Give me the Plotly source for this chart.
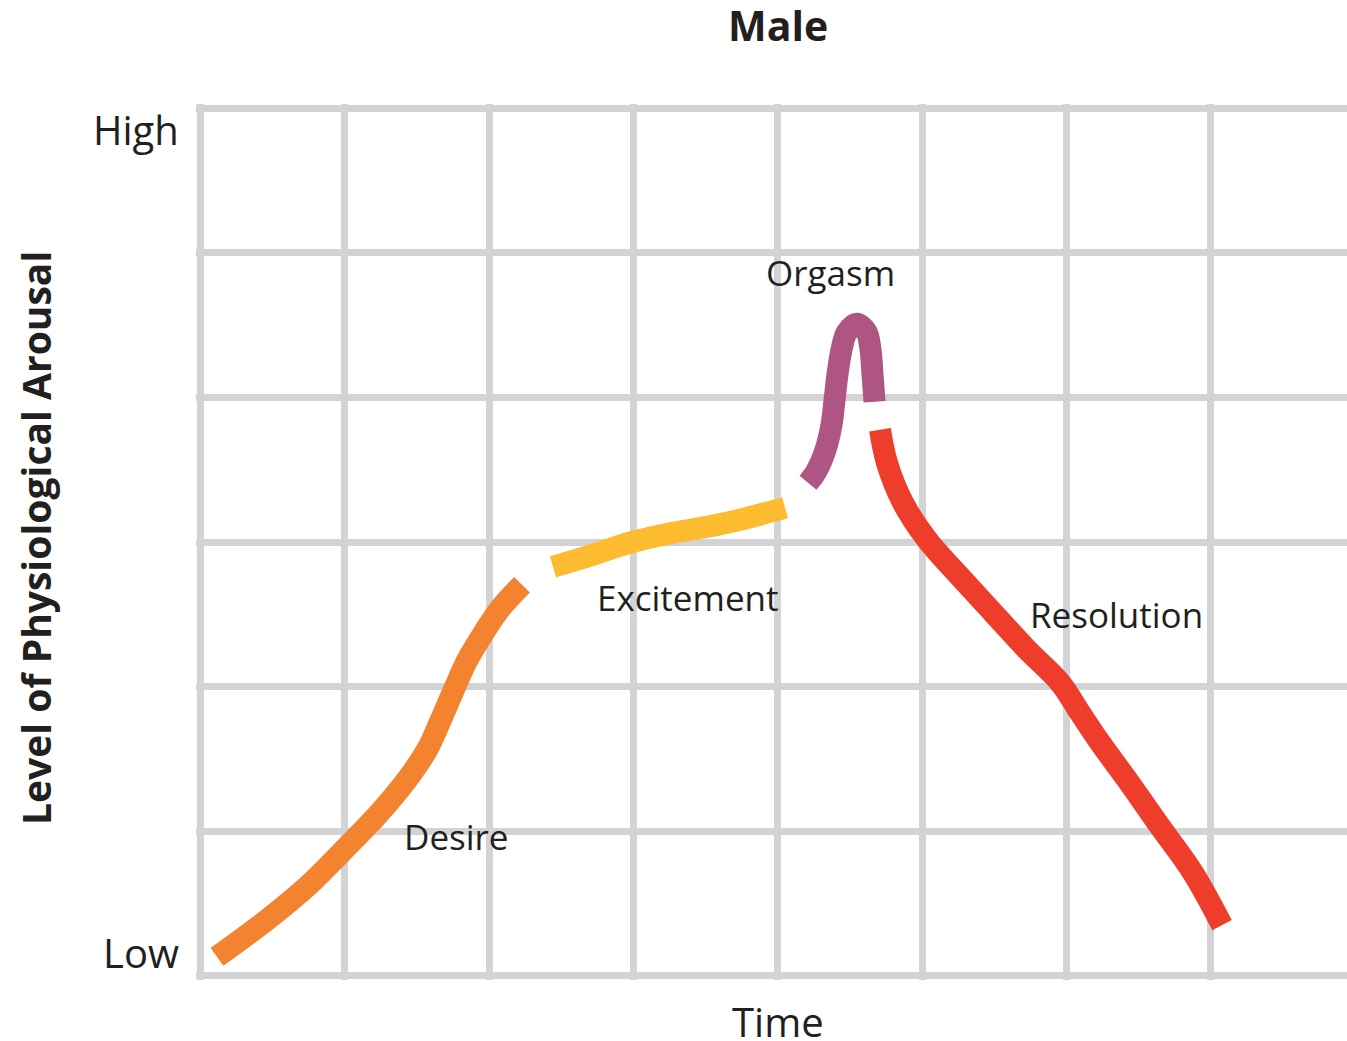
import plotly.graph_objects as go

# Data (time units, arousal units)
desire_x = [0.114, 0.461, 0.759, 0.988, 1.223, 1.431, 1.570, 1.660, 1.750, 1.847, 1.958, 2.076, 2.228]
desire_y = [0.131, 0.387, 0.636, 0.865, 1.107, 1.356, 1.563, 1.757, 1.964, 2.179, 2.365, 2.538, 2.704]

excite_x = [2.443, 2.699, 2.976, 3.274, 3.510, 3.739, 4.051]
excite_y = [2.829, 2.905, 2.995, 3.064, 3.105, 3.154, 3.237]

orgasm_x = [4.210, 4.266, 4.327, 4.373, 4.394, 4.414, 4.442, 4.477, 4.546, 4.615, 4.643, 4.657, 4.671]
orgasm_y = [3.410, 3.486, 3.624, 3.811, 3.984, 4.157, 4.330, 4.447, 4.510, 4.454, 4.330, 4.157, 3.970]

resol_x = [4.709, 4.757, 4.868, 5.035, 5.263, 5.492, 5.728, 5.957, 6.095, 6.234, 6.421, 6.650, 6.878, 7.079]
resol_y = [3.776, 3.548, 3.272, 3.016, 2.760, 2.511, 2.255, 2.027, 1.819, 1.612, 1.356, 1.031, 0.712, 0.350]

phase_names = ["Desire", "Excitement", "Orgasm", "Resolution"]
phase_label_x = [1.771, 3.378, 4.369, 6.345]
phase_label_y = [0.961, 2.614, 4.862, 2.497]

level_labels = ["High", "Low"]
level_label_y = [5.85, 0.159]

FONT = "Open Sans"
TXT = "#231f20"
GRID = "#d1d3d4"

colors = ["#f3832e", "#fdbb2f", "#ae5583", "#ee3e2b"]
series = [(desire_x, desire_y), (excite_x, excite_y), (orgasm_x, orgasm_y), (resol_x, resol_y)]

fig = go.Figure()
for (xs, ys), c, name in zip(series, colors, phase_names):
    fig.add_trace(go.Scatter(x=xs, y=ys, mode="lines", name=name,
                             line=dict(color=c, width=22, shape="spline", smoothing=1.0),
                             hoverinfo="skip", showlegend=False))

for name, lx, ly in zip(phase_names, phase_label_x, phase_label_y):
    fig.add_annotation(x=lx, y=ly, text=name, showarrow=False,
                       font=dict(family=FONT, size=35, color=TXT),
                       xanchor="center", yanchor="middle")

# level labels placed in paper x (left of plot), data y
for lab, ly in zip(level_labels, level_label_y):
    fig.add_annotation(x=-0.013, xref="paper", y=ly, yref="y", text=lab, showarrow=False,
                       font=dict(family=FONT, size=40, color=TXT),
                       xanchor="right", yanchor="middle")

fig.add_annotation(x=4.0, xref="x", y=-0.0476, yref="paper", text="Time",
                   showarrow=False, font=dict(family=FONT, size=40, color=TXT),
                   xanchor="center", yanchor="middle")
fig.add_annotation(x=4.0, xref="x", y=1.0904, yref="paper", text="<b>Male</b>",
                   showarrow=False, font=dict(family=FONT, size=41, color=TXT),
                   xanchor="center", yanchor="middle")
fig.add_annotation(x=-0.1399, xref="paper", y=0.5045, yref="paper",
                   text="<b>Level of Physiological Arousal</b>", textangle=-90,
                   showarrow=False, font=dict(family=FONT, size=39, color=TXT),
                   xanchor="center", yanchor="middle")

fig.update_xaxes(range=[-0.031, 7.945], dtick=1, tick0=0, showgrid=True,
                 gridcolor=GRID, gridwidth=7, zeroline=False, showline=False,
                 showticklabels=False, ticks="")
fig.update_yaxes(range=[-0.0295, 6.0295], dtick=1, tick0=0, showgrid=True,
                 gridcolor=GRID, gridwidth=7, zeroline=False, showline=False,
                 showticklabels=False, ticks="")

fig.update_layout(width=1347, height=1041,
                  margin=dict(l=196, r=0, t=104, b=61),
                  plot_bgcolor="white", paper_bgcolor="white",
                  font=dict(family=FONT, color=TXT))

fig.write_html("out.html", config={"displayModeBar": False},
               post_script="document.body.style.margin='0';document.body.style.overflow='hidden';")
